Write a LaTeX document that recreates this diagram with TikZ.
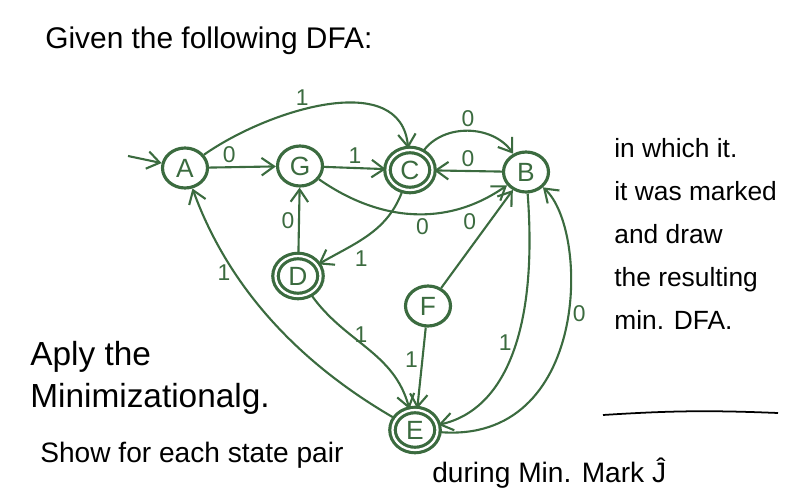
\documentclass[tikz,border=0pt]{standalone}
\usepackage{fontspec}
\setmainfont{Liberation Sans}
\usepackage{tikz}
\usetikzlibrary{
    positioning,      % relative placement
    arrows.meta,      % open arrow tips
    shapes.geometric  % elliptic states
}
\definecolor{penGreen}{HTML}{3B6B3F}

\begin{document}
\begin{tikzpicture}[
    % one unit = one pixel of the sheet
    x=0.02cm, y=-0.02cm,
    % Style for the states
    state_style/.style={
        draw=penGreen, ellipse,
        line width=1.8pt,
        text=penGreen,
        font=\fontsize{15}{15}\selectfont,
        minimum width=0.9cm, minimum height=0.8cm,
        inner sep=1pt
    },
    % Accepting states get a second ring
    accept_style/.style={
        state_style,
        double=white, double distance=1.3pt
    },
    % Style for the transitions
    edge_style/.style={
        draw=penGreen, line width=1.2pt,
        -{Straight Barb[length=2.5mm, width=3.5mm]}
    },
    % Style for the input symbols
    sym_style/.style={
        text=penGreen,
        font=\fontsize{13}{13}\selectfont,
        inner sep=2pt
    },
    % Style for the written notes
    note_style/.style={
        font=\fontsize{16}{22}\selectfont,
        anchor=base west, inner sep=0pt
    }
]
    \useasboundingbox (0,0) rectangle (800,500);

    % 1. The states of the DFA.
    \node[state_style]  (A) at (185,168) {A};
    \node[state_style]  (G) at (300,166) {G};
    \node[accept_style] (C) at (410,170) {C};
    \node[state_style]  (B) at (526,172) {B};
    \node[accept_style] (D) at (298,276) {D};
    \node[state_style]  (F) at (428,306) {F};
    \node[accept_style] (E) at (415,430) {E};
    \coordinate (start) at (128,156);

    % 2. The transitions.
    \draw[edge_style] (start) -- (A);
    \draw[edge_style] (A) -- node[sym_style, above, pos=0.3] {0} (G);
    \draw[edge_style] (A) to[out=35, in=95] node[sym_style, above, pos=0.4] {1} (C);
    \draw[edge_style] (G) -- node[sym_style, above] {1} (C);
    \draw[edge_style] (C) to[out=55, in=125] node[sym_style, above] {0} (B);
    \draw[edge_style] (B) -- node[sym_style, above] {0} (C);
    \draw[edge_style] (G) to[out=-35, in=-145] node[sym_style, below, pos=0.55] {0} (B);
    \draw[edge_style] (D) -- node[sym_style, left] {0} (G);
    \draw[edge_style] (C) to[out=-110, in=30] node[sym_style, below right, pos=0.7] {1} (D);
    \draw[edge_style] (D) to[out=-55, in=105] node[sym_style, right, pos=0.35] {1} (E);
    \draw[edge_style] (F) -- node[sym_style, above left, pos=0.55] {0} (B);
    \draw[edge_style] (F) -- node[sym_style, left, pos=0.4] {1} (E);
    \draw[edge_style] (E) to[out=150, in=-70, looseness=0.9] node[sym_style, left, pos=0.7] {1} (A);
    \draw[edge_style] (B) .. controls (538,330) and (505,410) .. node[sym_style, left, pos=0.45] {1} (E);
    \draw[edge_style] (E) .. controls (590,445) and (590,230) .. node[sym_style, right, pos=0.55] {0} (B);

    % 3. The written notes.
    \node[note_style, font=\fontsize{17}{22}\selectfont] (given) at (45,49) {Given the following DFA:};
    \node[note_style, anchor=north west, align=left, font=\fontsize{15}{24.5}\selectfont] (task) at (614,138)
        {in which it.\\ it was marked\\ and draw\\ the resulting\\ min. DFA.};
    \node[note_style, font=\fontsize{19}{22}\selectfont] (apply) at (30,365) {Aply the};
    \node[note_style, font=\fontsize{19}{22}\selectfont] (minalg) at (30,407) {Minimizationalg.};
    \node[note_style] (show) at (40,462) {Show for each state pair};
    \node[note_style] (during) at (432,482) {during Min. Mark Ĵ};

    % 4. The rule under the right-hand note.
    \coordinate (rule_start) at (603,415);
    \coordinate (rule_end) at (778,413);
    \draw[line width=1pt] (rule_start) to[bend left=3] (rule_end);

\end{tikzpicture}
\end{document}
